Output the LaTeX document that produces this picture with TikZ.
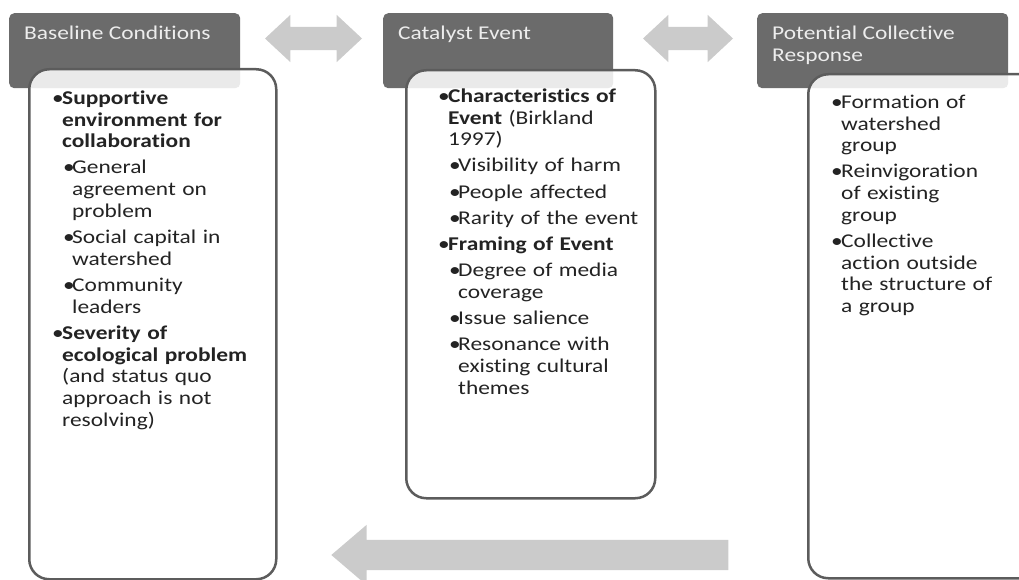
\documentclass[tikz,border=0pt]{standalone}
\usepackage{fontspec}
\setmainfont{Carlito}[FakeStretch=1.2,Ligatures=NoCommon]
\usetikzlibrary{shapes.arrows}

\definecolor{headGray}{HTML}{6B6B6B}
\definecolor{lineGray}{HTML}{5C5C5C}
\definecolor{arrowGray}{HTML}{CBCBCB}
\definecolor{labelGray}{HTML}{EDEDED}
\definecolor{inkGray}{HTML}{232323}

% bullets, first and second level
\newcommand{\bulletTop}{\par\noindent\hangindent=10pt\hangafter=1\makebox[10pt][l]{\textbullet}}
\newcommand{\bulletSub}{\par\noindent\hangindent=20pt\hangafter=1\hspace*{11pt}\makebox[9pt][l]{\textbullet}}
\newcommand{\nl}{\newline}

\begin{document}
\begin{tikzpicture}
[x=1pt,y=-1pt,
  headDecorate/.style={rectangle,rounded corners=5pt,fill=headGray,inner sep=0pt,anchor=north west},%
  headLabel/.style={anchor=north west,inner sep=0pt,align=left,text=labelGray,
    font=\fontsize{19.5}{21.5}\selectfont},%
  bodyDecorate/.style={rectangle,rounded corners=20pt,draw=lineGray,line width=2.5pt,
    fill=white,fill opacity=0.86,inner sep=0pt,anchor=north west},%
  bodyText/.style={anchor=north west,inner sep=0pt,text width=235pt,text=inkGray,
    font=\fontsize{19.5}{21.7}\selectfont,execute at begin node={\setlength{\parskip}{4.5pt}}},%
  swapDecorate/.style={double arrow,fill=arrowGray,inner xsep=0pt,inner ysep=11.5pt,
    double arrow head extend=12pt,double arrow tip angle=86},%
  backDecorate/.style={single arrow,fill=arrowGray,inner xsep=0pt,inner ysep=15pt,
    single arrow head extend=15pt,single arrow tip angle=81,shape border rotate=180,anchor=tip}]
\useasboundingbox (0,0) rectangle (1019,580);

%% dark title tabs
\foreach \tabname/\x/\w/\title in {
  baseTab/9/231/{Baseline Conditions},
  eventTab/383/230/{Catalyst Event},
  responseTab/757/251/{Potential Collective\\Response}}
{
  \node (\tabname) at (\x,13) [headDecorate,minimum width=\w pt,minimum height=75pt] {};
  \node [headLabel] at ([shift={(15,13)}]\tabname.north west) {\title};
}

%% white boxes over the tabs
\node (baseBox) at (28,68) [bodyDecorate,minimum width=247pt,minimum height=510pt] {};
\node (eventBox) at (405,69) [bodyDecorate,minimum width=249pt,minimum height=428pt] {};
\node (responseBox) at (807,73) [bodyDecorate,minimum width=260pt,minimum height=504pt] {};

%% box contents
\node (baseText) at (52,78) [bodyText] {%
  \bulletTop\textbf{Supportive\nl environment for\nl collaboration}
  \bulletSub General\nl agreement on\nl problem
  \bulletSub Social capital in\nl watershed
  \bulletSub Community\nl leaders
  \bulletTop\textbf{Severity of\nl ecological problem}\nl (and status quo\nl approach is not\nl resolving)\par};
\node (eventText) at (438,76) [bodyText] {%
  \bulletTop\textbf{Characteristics of}\nl\textbf{Event} (Birkland\nl 1997)
  \bulletSub Visibility of harm
  \bulletSub People affected
  \bulletSub Rarity of the event
  \bulletTop\textbf{Framing of Event}
  \bulletSub Degree of media\nl coverage
  \bulletSub Issue salience
  \bulletSub Resonance with\nl existing cultural\nl themes\par};
\node (responseText) at (831,82) [bodyText] {%
  \bulletTop Formation of\nl watershed\nl group
  \bulletTop Reinvigoration\nl of existing\nl group
  \bulletTop Collective\nl action outside\nl the structure of\nl a group\par};

%% grey block arrows
\node (swapOne) at (313.5,38.5) [swapDecorate,minimum height=97pt] {};
\node (swapTwo) at (688,38.5) [swapDecorate,minimum height=90pt] {};
\node (feedBack) at (331,555) [backDecorate,minimum height=397pt] {};
\end{tikzpicture}
\end{document}
